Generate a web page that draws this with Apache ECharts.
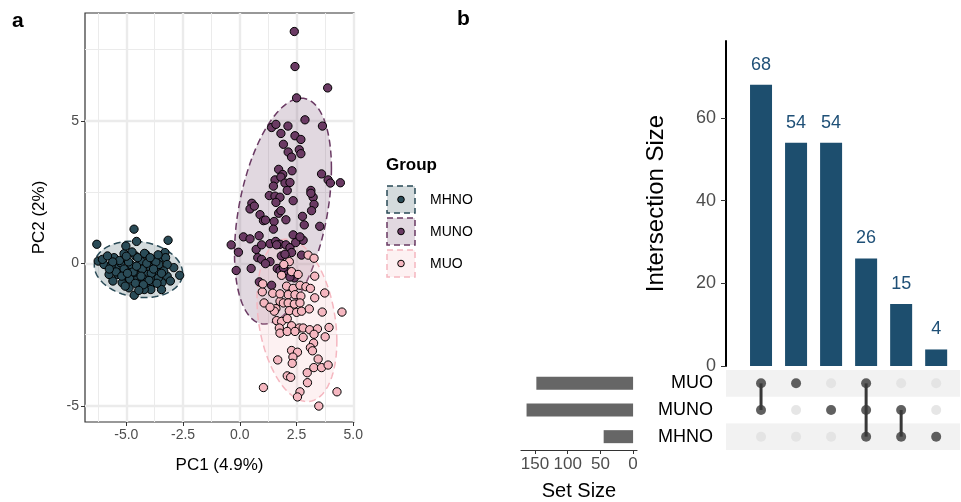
<!DOCTYPE html>
<html>
<head>
<meta charset="utf-8">
<script src="https://cdn.jsdelivr.net/npm/echarts@6/dist/echarts.min.js"></script>
<style>
  html, body { margin: 0; padding: 0; background: #fff; }
  #chart { width: 961px; height: 502px; }
</style>
</head>
<body>
<div id="chart"></div>
<script>
'use strict';

// ---- panel a : PCA scores ----
var groups = ['MHNO', 'MUNO', 'MUO'];
var groupColors = ['#2A4B57', '#6A3A63', '#F5B7C0'];

var pointsMHNO = [
  [-4.66, 1.20], [-6.30, 0.67], [-4.55, 0.77], [-3.16, 0.81], [-6.24, 0.08], [-5.98, -0.04],
  [-5.54, 0.20], [-5.10, 0.34], [-5.02, 0.61], [-4.59, 0.26], [-4.15, 0.32], [-3.86, 0.14],
  [-3.49, 0.18], [-3.30, 0.38], [-3.27, 0.20], [-2.91, -0.15], [-2.65, -0.42], [-3.20, -0.45],
  [-3.06, -0.62], [-3.43, -0.68], [-3.45, -0.92], [-3.92, -0.74], [-3.92, -0.92], [-4.21, -0.92],
  [-4.43, -0.68], [-4.65, -1.12], [-4.88, -0.86], [-5.18, -0.68], [-5.59, -0.62], [-5.76, -0.39],
  [-5.39, -0.15], [-4.96, -0.27], [-4.45, -0.15], [-4.08, -0.39], [-3.72, -0.27], [-5.25, 0.02],
  [-4.80, -0.04], [-4.37, 0.08], [-3.57, -0.04], [-5.67, -0.09], [-3.20, -0.04], [-3.77, -0.51],
  [-4.58, -0.51], [-5.01, -0.45], [-5.37, -0.39], [-4.22, -0.56], [-3.59, -0.51], [-6.05, 0.14],
  [-5.83, 0.26], [-3.93, -0.15], [-3.35, -0.27], [-4.66, -0.33],
  [-5.30, 0.10], [-5.10, -0.20], [-4.90, 0.05], [-4.70, -0.30], [-4.50, 0.20], [-4.30, -0.20],
  [-4.10, 0.00], [-3.90, -0.35], [-3.70, 0.05], [-5.45, -0.30], [-5.20, -0.45], [-4.85, -0.55],
  [-4.60, -0.70], [-4.35, -0.45], [-4.00, -0.60], [-3.80, -0.20], [-3.60, 0.30], [-4.20, 0.35],
  [-4.75, 0.40], [-5.00, 0.25], [-5.60, 0.05], [-5.75, -0.20], [-3.45, -0.35], [-4.55, -0.10],
  [-4.25, -0.75], [-3.65, -0.70], [-5.05, -0.80], [-4.45, -0.95], [-3.95, 0.20], [-4.95, -0.35]
];

var pointsMUNO = [
  [2.40, 8.14], [2.43, 6.91], [3.87, 6.16], [2.50, 5.81], [2.87, 5.04], [3.64, 4.82],
  [1.40, 4.77], [1.59, 4.88], [2.12, 4.82], [1.81, 4.56], [2.43, 4.48], [2.69, 4.35],
  [1.92, 4.18], [2.13, 3.91], [2.62, 3.99], [2.69, 3.85], [2.28, 3.73], [1.71, 3.30],
  [1.89, 3.12], [2.30, 3.25], [1.55, 2.93], [1.81, 3.03], [1.99, 2.82], [2.21, 2.84],
  [1.48, 2.71], [3.60, 3.14], [3.89, 2.93], [3.99, 2.82], [4.43, 2.83], [1.30, 2.38],
  [1.55, 2.36], [1.77, 2.32], [1.59, 2.14], [2.09, 2.56], [2.35, 2.20], [3.13, 2.56],
  [3.23, 2.32], [3.13, 2.46], [3.27, 2.07], [3.16, 1.85], [0.53, 2.11], [0.45, 1.91],
  [0.64, 2.01], [0.89, 1.71], [1.04, 1.50], [1.13, 1.52], [1.51, 1.47], [1.71, 1.76],
  [1.81, 1.85], [2.03, 1.53], [1.48, 1.20], [2.76, 1.65], [2.84, 1.35], [3.52, 1.30],
  [0.16, 0.93], [0.45, 0.86], [0.85, 0.97], [2.35, 1.00], [2.69, 0.85], [2.79, 0.81],
  [-0.38, 0.65], [-0.06, 0.39], [0.72, 0.49], [0.96, 0.65], [1.33, 0.69], [1.58, 0.77],
  [1.77, 0.67], [2.03, 0.65], [2.21, 0.55], [2.46, 0.73], [2.28, 0.38], [2.72, 0.29],
  [0.79, 0.20], [0.96, 0.14], [1.33, 0.06], [1.83, 0.26], [1.99, 0.32], [-0.16, -0.25],
  [0.50, -0.18], [1.65, -0.18], [1.77, -0.25], [2.09, -0.29], [2.40, -0.51], [2.21, -0.48],
  [0.86, -0.65], [1.40, -0.77], [2.65, 0.93], [1.62, 0.65], [1.13, -0.01], [1.92, -0.15]
];

var pointsMUO = [
  [3.01, 0.29], [3.27, 0.18], [2.18, 0.06], [2.28, -0.29], [1.84, -0.42], [3.30, -0.45],
  [0.99, -1.00], [1.45, -1.05], [1.07, -1.39], [2.06, -0.80], [2.35, -0.88], [2.65, -0.77],
  [2.91, -0.82], [3.11, -0.88], [3.74, -1.04], [2.13, -1.10], [2.43, -1.10], [2.69, -1.15],
  [3.30, -1.21], [1.77, -1.33], [1.92, -1.39], [2.13, -1.39], [2.40, -1.43], [2.65, -1.39],
  [1.59, -1.59], [1.52, -1.68], [2.18, -1.66], [2.50, -1.72], [2.72, -1.68], [3.06, -1.60],
  [3.63, -1.71], [4.50, -1.71], [1.62, -2.01], [1.84, -2.04], [2.09, -1.94], [1.74, -2.27],
  [2.28, -2.19], [2.62, -2.27], [2.79, -2.27], [3.08, -2.33], [3.42, -2.30], [3.93, -2.25],
  [1.77, -2.45], [2.09, -2.39], [2.43, -2.39], [2.79, -2.60], [3.27, -2.49], [3.76, -2.58],
  [3.25, -2.80], [3.11, -2.96], [3.20, -3.07], [2.28, -3.06], [2.54, -3.12], [2.34, -3.29],
  [3.45, -3.36], [1.67, -3.39], [2.31, -3.51], [3.26, -3.66], [3.60, -3.66], [3.89, -3.57],
  [2.97, -3.84], [2.09, -3.95], [2.24, -4.00], [2.98, -4.19], [1.04, -4.36], [2.65, -4.51],
  [2.54, -4.69], [4.28, -4.51], [3.48, -5.01], [1.01, -0.72], [1.77, -1.07], [1.94, -0.04],
  [2.57, -0.39], [1.33, -1.54]
];

var pcaXTicks = [-5, -2.5, 0, 2.5, 5];
var pcaXMinor = [-6.25, -3.75, -1.25, 1.25, 3.75];
var pcaYTicks = [-5, 0, 5];
var pcaYMinor = [-2.5, 2.5, 7.5];

// ---- panel b : UpSet ----
var setNames = ['MHNO', 'MUNO', 'MUO'];          // bottom to top
var setSizes = [45, 163, 148];
var combos = [['MUO', 'MUNO'], ['MUO'], ['MUNO'], ['MUO', 'MUNO', 'MHNO'], ['MUNO', 'MHNO'], ['MHNO']];
var intersectionSizes = [68, 54, 54, 26, 15, 4];
var intersectionTicks = [0, 20, 40, 60];
var setSizeTicks = [0, 50, 100, 150];

var FONT = '"Liberation Sans", Arial, sans-serif';
var barBlue = '#1D4E6E';

// robust covariance like MASS::cov.trob, then stat_ellipse(level = 0.95)
function trob(pts, nu) {
  var n = pts.length, w = pts.map(function () { return 1; });
  var mx = 0, my = 0, a = 0, b = 0, c = 0, i, it;
  for (it = 0; it < 100; it++) {
    var sw = 0; mx = 0; my = 0;
    for (i = 0; i < n; i++) { sw += w[i]; mx += w[i] * pts[i][0]; my += w[i] * pts[i][1]; }
    mx /= sw; my /= sw;
    a = 0; b = 0; c = 0;
    for (i = 0; i < n; i++) {
      var dx = pts[i][0] - mx, dy = pts[i][1] - my;
      a += w[i] * dx * dx; b += w[i] * dx * dy; c += w[i] * dy * dy;
    }
    a /= sw; b /= sw; c /= sw;
    var det = a * c - b * b, maxd = 0;
    for (i = 0; i < n; i++) {
      var ex = pts[i][0] - mx, ey = pts[i][1] - my;
      var q = (c * ex * ex - 2 * b * ex * ey + a * ey * ey) / det;
      var nw = (nu + 2) / (nu + q);
      maxd = Math.max(maxd, Math.abs(nw - w[i]));
      w[i] = nw;
    }
    if (maxd < 1e-6) break;
  }
  var sw2 = 0;
  for (i = 0; i < n; i++) sw2 += w[i];
  return { mx: mx, my: my, a: a * sw2 / n, b: b * sw2 / n, c: c * sw2 / n, n: n };
}

function ellipsePath(pts) {
  var t = trob(pts, 5);
  var d = t.n - 1;
  var qf = (d / 2) * (Math.pow(0.05, -2 / d) - 1);
  var r = Math.sqrt(2 * qf);
  var r11 = Math.sqrt(t.a), r12 = t.b / r11, r22 = Math.sqrt(t.c - r12 * r12);
  var out = [];
  for (var k = 0; k < 100; k++) {
    var ang = 2 * Math.PI * k / 100;
    out.push([t.mx + r * Math.cos(ang) * r11, t.my + r * (Math.cos(ang) * r12 + Math.sin(ang) * r22)]);
  }
  return out;
}

var groupPoints = [pointsMHNO, pointsMUNO, pointsMUO];
var ellipses = groupPoints.map(ellipsePath);

function hexAlpha(hex, al) {
  var v = parseInt(hex.slice(1), 16);
  return 'rgba(' + (v >> 16) + ',' + ((v >> 8) & 255) + ',' + (v & 255) + ',' + al + ')';
}

var chart = echarts.init(document.getElementById('chart'));

var series = [];

groups.forEach(function (g, gi) {
  series.push({
    type: 'custom',
    name: g + ' ellipse',
    xAxisIndex: 0, yAxisIndex: 0,
    z: 1,
    silent: true,
    data: [0],
    renderItem: function (params, api) {
      var poly = ellipses[gi].map(function (p) { return api.coord(p); });
      return {
        type: 'polygon',
        shape: { points: poly },
        style: {
          fill: hexAlpha(groupColors[gi], 0.2),
          stroke: groupColors[gi],
          lineWidth: 1.5,
          lineDash: [7, 4]
        }
      };
    }
  });
});

groups.forEach(function (g, gi) {
  series.push({
    type: 'scatter',
    name: g,
    xAxisIndex: 0, yAxisIndex: 0,
    z: 2,
    symbolSize: 8.3,
    data: groupPoints[gi],
    itemStyle: { color: groupColors[gi], borderColor: '#000', borderWidth: 1, opacity: 1 }
  });
});

// intersection bars
series.push({
  type: 'bar',
  xAxisIndex: 2, yAxisIndex: 2,
  barWidth: 22,
  data: intersectionSizes.map(function (v, i) { return [i + 1, v]; }),
  itemStyle: { color: barBlue },
  label: {
    show: true, position: 'top', distance: 11,
    color: '#1F5077', fontSize: 18, fontFamily: FONT,
    formatter: function (p) { return p.value[1]; }
  }
});

// matrix connecting lines
series.push({
  type: 'custom',
  xAxisIndex: 3, yAxisIndex: 3,
  z: 2,
  silent: true,
  data: combos.map(function (cmb, i) {
    var idx = cmb.map(function (s) { return setNames.indexOf(s); });
    return [i + 1, Math.min.apply(null, idx), Math.max.apply(null, idx)];
  }),
  renderItem: function (params, api) {
    var p1 = api.coord([api.value(0), api.value(1)]);
    var p2 = api.coord([api.value(0), api.value(2)]);
    return {
      type: 'line',
      shape: { x1: p1[0], y1: p1[1], x2: p2[0], y2: p2[1] },
      style: { stroke: '#383838', lineWidth: 3 }
    };
  }
});

// matrix dots
var matrixDots = [];
combos.forEach(function (cmb, i) {
  setNames.forEach(function (s, si) {
    var on = cmb.indexOf(s) >= 0;
    matrixDots.push({ value: [i + 1, si], itemStyle: { color: on ? '#383838' : '#E0E0E0' } });
  });
});
series.push({
  type: 'scatter',
  xAxisIndex: 3, yAxisIndex: 3,
  z: 3,
  symbolSize: 10,
  data: matrixDots
});

// set size bars
series.push({
  type: 'bar',
  xAxisIndex: 4, yAxisIndex: 4,
  barWidth: 13,
  data: setSizes,
  itemStyle: { color: '#666666' }
});

var tickLabel = { color: '#4D4D4D', fontFamily: FONT };

var legendGraphics = [];
groups.forEach(function (g, gi) {
  var y0 = 186 + gi * 32;
  legendGraphics.push(
    { type: 'rect', shape: { x: 387, y: y0, width: 28, height: 27 },
      style: { fill: hexAlpha(groupColors[gi], 0.2), stroke: groupColors[gi], lineWidth: 1.5, lineDash: [6, 4] } },
    { type: 'circle', shape: { cx: 401, cy: y0 + 13.5, r: 3.3 },
      style: { fill: groupColors[gi], stroke: '#000', lineWidth: 1 } },
    { type: 'text', x: 430, y: y0 + 14,
      style: { text: g, font: '14px ' + FONT, fill: '#000', verticalAlign: 'middle' } }
  );
});

var option = {
  animation: false,
  backgroundColor: '#fff',
  textStyle: { fontFamily: FONT },
  grid: [
    { left: 85, top: 13, width: 269, height: 409, show: true, borderColor: '#333', borderWidth: 1.2 },
    { left: 726, top: 41, width: 234, height: 325 },
    { left: 726, top: 370, width: 234, height: 80 },
    { left: 521, top: 370, width: 116, height: 80 }
  ],
  xAxis: [
    {
      type: 'value', gridIndex: 0, min: -6.82, max: 5.03,
      name: 'PC1 (4.9%)', nameLocation: 'middle', nameGap: 35,
      nameTextStyle: { color: '#000', fontSize: 17, fontFamily: FONT },
      axisLine: { show: false, onZero: false },
      axisTick: { show: true, length: 4, lineStyle: { color: '#333' }, customValues: pcaXTicks },
      axisLabel: Object.assign({ fontSize: 14, margin: 6, customValues: pcaXTicks,
        formatter: function (v) { return v.toFixed(1); } }, tickLabel),
      splitLine: { show: true, lineStyle: { color: '#EBEBEB', width: 2.4 } }
    },
    {
      type: 'value', gridIndex: 0, min: -6.82, max: 5.03,
      axisLine: { show: false, onZero: false },
      axisTick: { show: false, customValues: pcaXMinor },
      axisLabel: { show: false, customValues: pcaXMinor },
      splitLine: { show: true, lineStyle: { color: '#EBEBEB', width: 1 } }
    },
    { type: 'value', gridIndex: 1, min: 0, max: 6.68, show: false },
    { type: 'value', gridIndex: 2, min: 0, max: 6.68, show: false },
    {
      type: 'value', gridIndex: 3, min: -6, max: 171.5, inverse: true,
      name: 'Set Size', nameLocation: 'middle', nameGap: 31,
      nameTextStyle: { color: '#000', fontSize: 20, fontFamily: FONT },
      axisLine: { show: true, onZero: false, lineStyle: { color: '#333', width: 1.2 } },
      axisTick: { show: true, length: 4, lineStyle: { color: '#333' }, customValues: setSizeTicks },
      axisLabel: Object.assign({ fontSize: 17, margin: 6, customValues: setSizeTicks }, tickLabel),
      splitLine: { show: false }
    }
  ],
  yAxis: [
    {
      type: 'value', gridIndex: 0, min: -5.57, max: 8.79,
      name: 'PC2 (2%)', nameLocation: 'middle', nameGap: 37,
      nameTextStyle: { color: '#000', fontSize: 17, fontFamily: FONT },
      axisLine: { show: false, onZero: false },
      axisTick: { show: true, length: 4, lineStyle: { color: '#333' }, customValues: pcaYTicks },
      axisLabel: Object.assign({ fontSize: 14, margin: 6, customValues: pcaYTicks }, tickLabel),
      splitLine: { show: true, lineStyle: { color: '#EBEBEB', width: 2.4 } }
    },
    {
      type: 'value', gridIndex: 0, min: -5.57, max: 8.79,
      axisLine: { show: false, onZero: false },
      axisTick: { show: false, customValues: pcaYMinor },
      axisLabel: { show: false, customValues: pcaYMinor },
      splitLine: { show: true, lineStyle: { color: '#EBEBEB', width: 1 } }
    },
    {
      type: 'value', gridIndex: 1, min: 0, max: 78.6,
      name: 'Intersection Size', nameLocation: 'middle', nameGap: 58,
      nameTextStyle: { color: '#000', fontSize: 24, fontFamily: FONT },
      axisLine: { show: true, onZero: false, lineStyle: { color: '#000', width: 2 } },
      axisTick: { show: true, length: 5, lineStyle: { color: '#333' }, customValues: intersectionTicks },
      axisLabel: Object.assign({ fontSize: 18, margin: 10, customValues: intersectionTicks }, tickLabel),
      splitLine: { show: false }
    },
    {
      type: 'category', gridIndex: 2, data: setNames,
      axisLine: { show: false }, axisTick: { show: false },
      axisLabel: { color: '#000', fontSize: 18, fontFamily: FONT, margin: 13 },
      splitArea: { show: true, areaStyle: { color: ['#F2F2F2', '#FFFFFF'] } },
      splitLine: { show: false }
    },
    { type: 'category', gridIndex: 3, data: setNames, show: false }
  ],
  graphic: [
    { type: 'text', left: 12, top: 11, style: { text: 'a', font: 'bold 21px ' + FONT, fill: '#000' } },
    { type: 'text', left: 457, top: 9, style: { text: 'b', font: 'bold 21px ' + FONT, fill: '#000' } },
    { type: 'text', left: 386, top: 157, style: { text: 'Group', font: 'bold 17px ' + FONT, fill: '#000' } }
  ].concat(legendGraphics),
  series: series
};

chart.setOption(option);
</script>
</body>
</html>
